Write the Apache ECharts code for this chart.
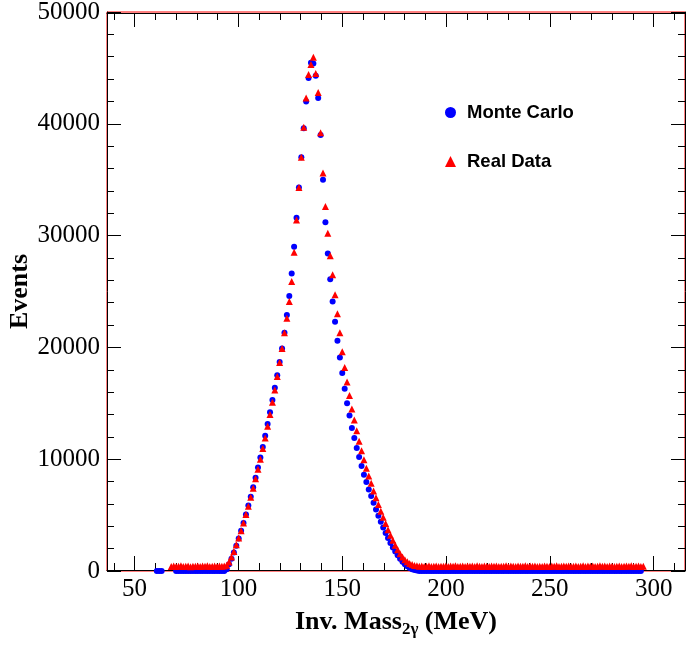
<!DOCTYPE html>
<html>
<head>
<meta charset="utf-8">
<script src="https://cdn.jsdelivr.net/npm/echarts@6/dist/echarts.min.js"></script>
<style>
  html, body { margin: 0; padding: 0; background: #ffffff; }
  #chart { width: 686px; height: 645px; }
</style>
</head>
<body>
<div id="chart"></div>
<script>
// Two-photon invariant mass spectrum: simulation vs. measured events.
// Histogram bins: centre of bin i is binStart + i * binWidth (MeV).
const binStart = 60.7;
const binWidth = 1.16;

// Monte Carlo events per bin (null = empty bin, not drawn)
const mcEvents = [
  0, 0, 0, null, null, null, null, null, 0, 0,
  0, 0, 0, 0, 0, 0, 0, 0, 0, 0,
  0, 0, 0, 0, 0, 0, 0, 0, 0, 150,
  600, 1100, 1650, 2250, 2900, 3600, 4300, 5050, 5850, 6650,
  7500, 8350, 9250, 10150, 11100, 12100, 13150, 14200, 15300, 16400,
  17500, 18700, 19900, 21300, 22900, 24600, 26600, 29000, 31600, 34300,
  37000, 39600, 42000, 44100, 45450, 45400, 44300, 42300, 39000, 35000,
  31200, 28400, 26100, 24100, 22300, 20600, 19100, 17700, 16300, 15000,
  13900, 12800, 11900, 11000, 10200, 9400, 8600, 7950, 7300, 6700,
  6100, 5500, 4950, 4400, 3900, 3400, 2950, 2500, 2100, 1750,
  1400, 1100, 820, 600, 420, 270, 160, 90, 40, 10,
  0, 0, 0, 0, 0, 0, 0, 0, 0, 0,
  0, 0, 0, 0, 0, 0, 0, 0, 0, 0,
  0, 0, 0, 0, 0, 0, 0, 0, 0, 0,
  0, 0, 0, 0, 0, 0, 0, 0, 0, 0,
  0, 0, 0, 0, 0, 0, 0, 0, 0, 0,
  0, 0, 0, 0, 0, 0, 0, 0, 0, 0,
  0, 0, 0, 0, 0, 0, 0, 0, 0, 0,
  0, 0, 0, 0, 0, 0, 0, 0, 0, 0,
  0, 0, 0, 0, 0, 0, 0, 0, 0, 0,
  0, 0
];

// Real data events per bin
const dataEvents = [
  null, null, null, null, null, null, 410, 440, 395, 430,
  460, 405, 425, 450, 390, 435, 415, 455, 400, 440,
  420, 465, 395, 430, 445, 410, 450, 420, 440, 520,
  800, 1250, 1750, 2350, 2950, 3600, 4300, 5050, 5800, 6600,
  7400, 8250, 9100, 10000, 10950, 11900, 12950, 14000, 15100, 16200,
  17400, 18650, 19900, 21300, 22600, 24100, 25900, 28500, 31400, 34300,
  37000, 39700, 42300, 44400, 45300, 45950, 44500, 42800, 39200, 35600,
  32600, 30200, 28200, 26500, 24700, 23000, 21300, 19600, 18200, 16900,
  15700, 14500, 13500, 12550, 11600, 10750, 9950, 9200, 8500, 7850,
  7150, 6550, 5950, 5350, 4800, 4250, 3700, 3200, 2750, 2300,
  1900, 1550, 1250, 1000, 820, 680, 580, 500, 460, 430,
  445, 410, 430, 460, 400, 425, 450, 395, 435, 420,
  455, 405, 440, 415, 465, 400, 430, 445, 410, 450,
  420, 440, 395, 460, 425, 410, 450, 430, 405, 445,
  415, 455, 400, 435, 420, 460, 410, 440, 425, 395,
  450, 415, 430, 465, 405, 440, 420, 455, 400, 435,
  410, 450, 425, 395, 445, 430, 460, 405, 420, 440,
  415, 455, 400, 435, 450, 410, 425, 465, 395, 440,
  420, 445, 405, 430, 460, 415, 440, 400, 450, 425,
  410, 435, 455, 400, 430, 445, 415, 460, 405, 425,
  440, 410, 430
];

// Axis ranges and tick values
const xRange = [36.7, 315.1];
const xMajorTicks = [50, 100, 150, 200, 250, 300];
const xMinorTicks = [40, 50, 60, 70, 80, 90, 100, 110, 120, 130, 140, 150, 160, 170, 180, 190,
  200, 210, 220, 230, 240, 250, 260, 270, 280, 290, 300, 310];
const yRange = [0, 50000];
const yStep = 10000;

const seriesNames = ['Monte Carlo', 'Real Data'];

function toPoints(values) {
  const pts = [];
  values.forEach(function (v, i) {
    if (v !== null) pts.push([+(binStart + i * binWidth).toFixed(2), v]);
  });
  return pts;
}

const SERIF = '"Liberation Serif", "Times New Roman", serif';
const SANS = '"Liberation Sans", Arial, sans-serif';
const blackLine = { show: true, onZero: false, lineStyle: { color: '#000', width: 1 } };

// Horizontal axes sit one pixel inside the red frame so both lines show.
function xAxisDef(position, tickValues, tickLen, withLine, withLabels) {
  const ax = {
    type: 'value', position: position, min: xRange[0], max: xRange[1], offset: -1,
    axisLine: withLine ? blackLine : { show: false, onZero: false },
    axisTick: { show: true, inside: true, length: tickLen, customValues: tickValues,
      lineStyle: { color: '#000', width: 1 } },
    axisLabel: { show: false },
    splitLine: { show: false }
  };
  if (withLabels) {
    ax.axisLabel = { show: true, customValues: xMajorTicks, margin: 7,
      fontFamily: SERIF, fontSize: 25, color: '#000' };
    ax.name = '{b|Inv. Mass}{s|2γ}{b| (MeV)}';
    ax.nameLocation = 'middle';
    ax.nameGap = 36;
    ax.nameMoveOverlap = false;
    ax.nameTextStyle = {
      rich: {
        b: { fontFamily: SERIF, fontWeight: 'bold', fontSize: 26, lineHeight: 32, color: '#000' },
        s: { fontFamily: SERIF, fontWeight: 'bold', fontSize: 17, lineHeight: 17, color: '#000', verticalAlign: 'bottom' }
      }
    };
  }
  return ax;
}

function yAxisDef(position, withLabels) {
  const ax = {
    type: 'value', position: position, min: yRange[0], max: yRange[1], interval: yStep,
    axisLine: blackLine,
    axisTick: { show: true, inside: true, length: 14, lineStyle: { color: '#000', width: 1 } },
    minorTick: { show: true, splitNumber: 5, length: 7, lineStyle: { color: '#000', width: 1 } },
    axisLabel: { show: false },
    splitLine: { show: false },
    minorSplitLine: { show: false }
  };
  if (withLabels) {
    ax.axisLabel = { show: true, margin: 7, fontFamily: SERIF, fontSize: 25, color: '#000',
      formatter: function (v) { return String(v); } };
    ax.name = 'Events';
    ax.nameLocation = 'middle';
    ax.nameRotate = 90;
    ax.nameGap = 74;
    ax.nameMoveOverlap = false;
    ax.nameTextStyle = { fontFamily: SERIF, fontWeight: 'bold', fontSize: 26, color: '#000' };
  }
  return ax;
}

const chart = echarts.init(document.getElementById('chart'), null, { renderer: 'canvas' });
chart.setOption({
  animation: false,
  backgroundColor: '#ffffff',
  grid: {
    left: 107, top: 12, right: 1, bottom: 74,
    containLabel: false, outerBoundsMode: 'none',
    show: true, borderColor: '#ff0000', borderWidth: 1, backgroundColor: 'transparent'
  },
  legend: {
    data: [
      { name: seriesNames[0], icon: 'circle' },
      { name: seriesNames[1], icon: 'triangle' }
    ],
    orient: 'vertical', left: 440, top: 98,
    itemWidth: 11, itemHeight: 11, itemGap: 30,
    selectedMode: false,
    textStyle: { fontFamily: SANS, fontWeight: 'bold', fontSize: 18.5, color: '#000', padding: [0, 0, 0, 6] }
  },
  xAxis: [
    xAxisDef('bottom', xMajorTicks, 14, true, true),
    xAxisDef('bottom', xMinorTicks, 7, false, false),
    xAxisDef('top', xMajorTicks, 14, true, false),
    xAxisDef('top', xMinorTicks, 7, false, false)
  ],
  yAxis: [
    yAxisDef('left', true),
    yAxisDef('right', false)
  ],
  series: [
    {
      name: seriesNames[0], type: 'scatter', xAxisIndex: 0, yAxisIndex: 0,
      data: toPoints(mcEvents), symbol: 'circle', symbolSize: 6, clip: false,
      itemStyle: { color: '#0000ff', opacity: 1 }, z: 2
    },
    {
      name: seriesNames[1], type: 'scatter', xAxisIndex: 0, yAxisIndex: 0,
      data: toPoints(dataEvents), symbol: 'triangle', symbolSize: 7, clip: false,
      itemStyle: { color: '#ff0000', opacity: 1 }, z: 3
    }
  ]
});
</script>
</body>
</html>
